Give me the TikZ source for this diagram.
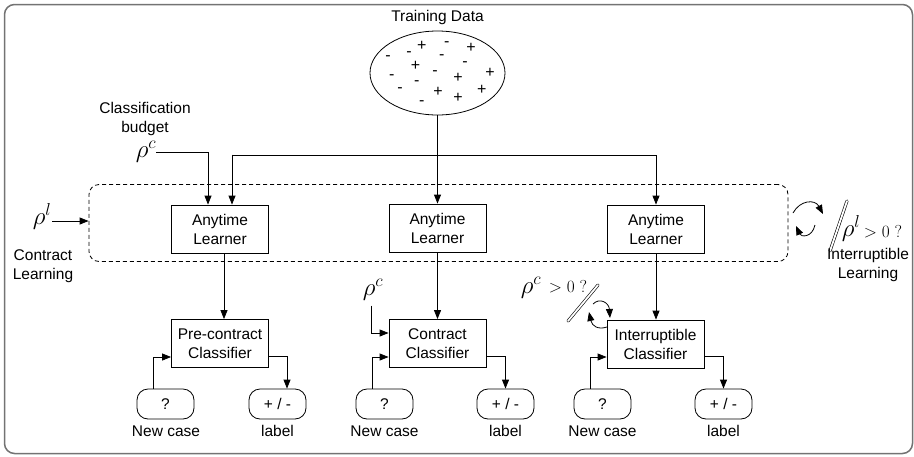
\documentclass[tikz,border=0pt]{standalone}
\usepackage{fontspec}
\setmainfont{Liberation Sans}
\usetikzlibrary{arrows.meta,calc,shapes.geometric}

\tikzset{
  lw/.style={line width=0.8pt},
  box/.style={draw, lw, minimum width=97pt, minimum height=48pt, align=center,
    inner sep=0pt, font=\fontsize{15.5}{19}\selectfont},
  term/.style={draw, lw, rounded corners=11pt, minimum width=57pt, minimum height=30pt,
    inner sep=0pt, font=\fontsize{15.5}{18}\selectfont},
  txt/.style={align=center, inner sep=0pt, font=\fontsize{15.5}{18.5}\selectfont},
  sign/.style={inner sep=0pt, font=\fontsize{16}{16}\selectfont},
  rho/.style={inner sep=0pt, font=\fontsize{25}{25}\selectfont},
  cond/.style={inner sep=0pt, font=\fontsize{16}{16}\selectfont},
  arr/.style={lw, -{Triangle[length=9pt,width=7pt]}},
  brk/.style={double, double distance=1.8pt, line width=0.6pt, line cap=round},
}

\begin{document}
\begin{tikzpicture}[x=1pt,y=-1pt]
\useasboundingbox (0,0) rectangle (914,456);

% outer frame
\draw[black!55, line width=1.5pt, rounded corners=10pt] (4.5,4.5) rectangle (912.5,453.5);

% training data
\node[txt] (tdlabel) at (437.5,17) {Training Data};
\node[draw, lw, ellipse, minimum width=135pt, minimum height=84pt, inner sep=0pt] (data) at (437.5,73) {};
\foreach \s/\x/\y [count=\i] in {
  +/421.7/46, -/446.7/44, +/471/48, -/388/58, -/409/54, -/441.7/57, -/465/64,
  +/415.5/66, -/391.7/77, -/416.7/83, -/435/73, +/458/78, +/490/73, -/400/90,
  +/438/92, +/458/98, +/481.7/90, -/421.7/103}
  \node[sign] (s\i) at (\x,\y) {\s};

% learning stage
\node[draw, lw, dashed, dash pattern=on 4pt off 3pt, rounded corners=10pt,
  minimum width=699pt, minimum height=77pt, inner sep=0pt] (group) at (438.5,223) {};

\node[box] (L1) at (220,229) {Anytime\\Learner};
\node[box] (L2) at (437.5,228) {Anytime\\Learner};
\node[box] (L3) at (656,229) {Anytime\\Learner};

\node[txt] (budget) at (145,119) {Classification\\budget};
\node[rho] (rc1) at (146,152) {$\rho^{c}$};

\coordinate (hub) at (437.5,155);
\draw[arr] (data.south) -- (L2.north);
\draw[lw] (hub) -| ($(L1.north)+(12,-50)$);
\draw[arr] ($(L1.north)+(12,-50)$) -- ($(L1.north)+(12,0)$);
\draw[arr] (hub) -| (L3.north);
\draw[arr] (rc1.east) -| ($(L1.north)+(-12,0)$);

% contract learning input
\node[rho] (rl) at (42,216) {$\rho^{l}$};
\node[txt] (cl) at (43,266) {Contract\\Learning};
\draw[arr] ($(rl.east)+(1,5)$) -- ($(group.west)+(0,-2)$);

% interruptible learning
\coordinate (ia1) at (793,213);
\coordinate (ia2) at (823,214);
\coordinate (ib1) at (815,225);
\coordinate (ib2) at (796,226);
\draw[arr] (ia1) .. controls (800,200) and (815,199) .. (ia2);
\draw[arr] (ib1) .. controls (812,238) and (801,237) .. (ib2);
\coordinate (sl1) at (830,251);
\coordinate (sl2) at (847,201);
\draw[brk] (sl1) -- (sl2);
\node[rho] (rl2) at (851,228) {$\rho^{l}$};
\node[cond] (gl) at (883,232) {$>0\;?$};
\node[txt] (il) at (868,265) {Interruptible\\Learning};

% classifiers
\node[box] (C1) at (220,343.5) {Pre-contract\\Classifier};
\node[box] (C2) at (437.5,343.5) {Contract\\Classifier};
\node[box] (C3) at (655.5,344) {Interruptible\\Classifier};

\draw[arr] ($(L1.south)+(4,0)$) -- ($(C1.north)+(4,0)$);
\draw[arr] (L2.south) -- (C2.north);
\draw[arr] (L3.south) -- (C3.north -| L3.south);

% contract classification budget
\node[rho] (rc2) at (373,290) {$\rho^{c}$};
\draw[arr] ($(C2.west)+(-17,-38)$) |- ($(C2.west)+(0,-10.5)$);

% interruptible classification
\node[rho] (rc3) at (531,288) {$\rho^{c}$};
\node[cond] (gc) at (568,287) {$>0\;?$};
\coordinate (sc1) at (568,321);
\coordinate (sc2) at (598,285);
\draw[brk] (sc1) -- (sc2);
\coordinate (ja1) at (593,304);
\coordinate (ja2) at (610,318);
\coordinate (jb1) at (607,327);
\coordinate (jb2) at (589,312);
\draw[arr] (ja1) .. controls (600,297) and (609,303) .. (ja2);
\draw[arr] (jb1) .. controls (598,330) and (592,326) .. (jb2);

% new cases and labels
\node[term] (q1) at (165.5,404) {?};
\node[term] (o1) at (277.5,404) {+ / -};
\node[term] (q2) at (384.5,404) {?};
\node[term] (o2) at (505.5,404) {+ / -};
\node[term] (q3) at (602.5,404) {?};
\node[term] (o3) at (723.5,404) {+ / -};

\node[txt] (n1) at (166,431) {New case};
\node[txt] (b1) at (277.5,431) {label};
\node[txt] (n2) at (384.5,431) {New case};
\node[txt] (b2) at (505.5,431) {label};
\node[txt] (n3) at (602.5,431) {New case};
\node[txt] (b3) at (723.5,431) {label};

\draw[arr] ($(q1.north)+(-12.5,0)$) |- ($(C1.west)+(0,13.5)$);
\draw[arr] ($(C1.east)+(0,12.5)$) -| ($(o1.north)+(9.5,0)$);
\draw[arr] ($(q2.north)+(-12.5,0)$) |- ($(C2.west)+(0,13.5)$);
\draw[arr] ($(C2.east)+(0,12.5)$) -| (o2.north);
\draw[arr] ($(q3.north)+(-12.5,0)$) |- ($(C3.west)+(0,13)$);
\draw[arr] ($(C3.east)+(0,12)$) -| (o3.north);
\end{tikzpicture}
\end{document}
